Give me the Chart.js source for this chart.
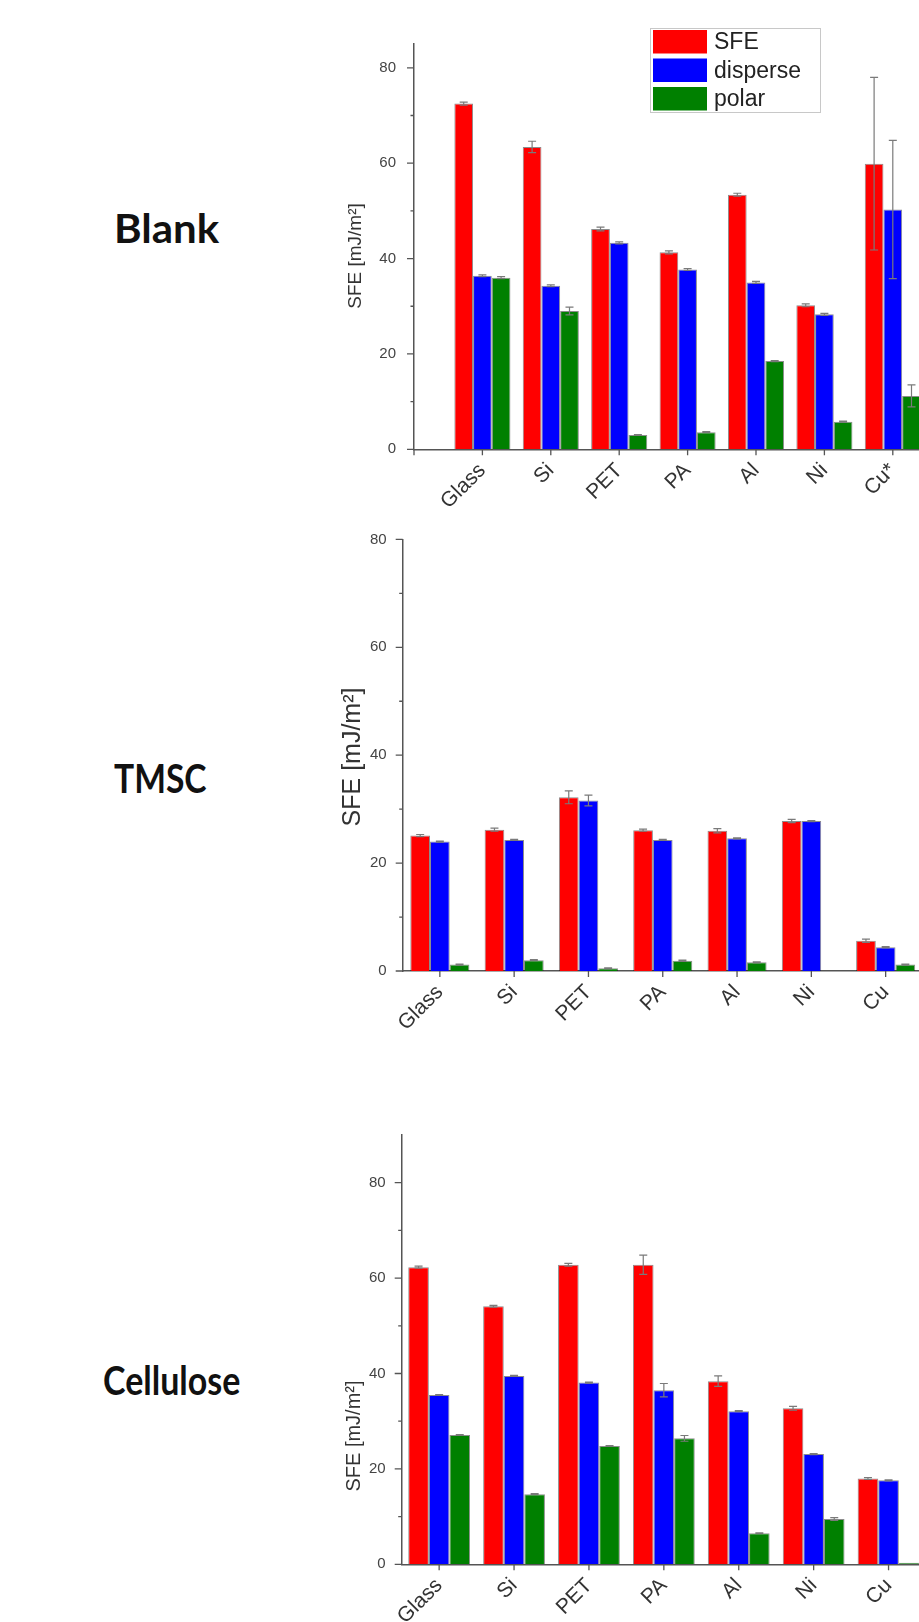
<!DOCTYPE html>
<html>
<head>
<meta charset="utf-8">
<script src="https://cdn.jsdelivr.net/npm/chart.js@4.4.1/dist/chart.umd.min.js"></script>
<style>
  html, body { margin: 0; padding: 0; background: #fff; }
  body { width: 919px; height: 1622px; overflow: hidden; position: relative; }
  .panel { position: absolute; left: 0; }
  .name { position: absolute; font-family: Lato, sans-serif; font-weight: 700; font-size: 40px; line-height: 40px; color: #111; transform-origin: left top; }
  canvas { display: block; }
</style>
</head>
<body>
<div class="name" style="left:114px;top:208px;transform:scaleX(1.05)">Blank</div>
<div class="name" style="left:114px;top:758px;transform:scaleX(0.84)">TMSC</div>
<div class="name" style="left:103px;top:1360px;transform:scaleX(0.85)">Cellulose</div>

<canvas class="panel" id="blank" width="1000" height="560" style="top:0"></canvas>
<canvas class="panel" id="tmsc" width="960" height="620" style="top:480px"></canvas>
<canvas class="panel" id="cellulose" width="960" height="542" style="top:1080px"></canvas>

<script>
const categories = ['Glass', 'Si', 'PET', 'PA', 'Al', 'Ni', 'Cu'];
const blankCategories = ['Glass', 'Si', 'PET', 'PA', 'Al', 'Ni', 'Cu*'];
const seriesNames = ['SFE', 'disperse', 'polar'];
const yTicks = [0, 20, 40, 60, 80];
const yTitle = 'SFE [mJ/m²]';

// Blank
const blankSfe = [72.5, 63.4, 46.2, 41.3, 53.4, 30.2, 59.9];
const blankDisperse = [36.4, 34.3, 43.3, 37.7, 35.0, 28.3, 50.3];
const blankPolar = [36.0, 29.0, 3.0, 3.6, 18.5, 5.8, 11.2];
const blankSfeErr = [0.3, 1.2, 0.4, 0.3, 0.3, 0.3, 18.1];
const blankDisperseErr = [0.2, 0.2, 0.2, 0.2, 0.2, 0.2, 14.5];
const blankPolarErr = [0.2, 0.8, 0.1, 0.1, 0.1, 0.1, 2.3];

// TMSC
const tmscSfe = [25.1, 26.2, 32.2, 26.1, 26.0, 27.8, 5.6];
const tmscDisperse = [24.0, 24.3, 31.6, 24.3, 24.6, 27.8, 4.4];
const tmscPolar = [1.2, 2.0, 0.5, 1.9, 1.6, 0, 1.2];
const tmscSfeErr = [0.2, 0.3, 1.2, 0.2, 0.4, 0.3, 0.3];
const tmscDisperseErr = [0.1, 0.1, 1.0, 0.1, 0.1, 0.1, 0.1];
const tmscPolarErr = [0.1, 0.1, 0.1, 0.1, 0.1, 0, 0.1];

// Cellulose
const celluloseSfe = [62.3, 54.1, 62.8, 62.8, 38.4, 32.7, 18.0];
const celluloseDisperse = [35.5, 39.5, 38.1, 36.5, 32.1, 23.1, 17.6];
const cellulosePolar = [27.1, 14.7, 24.8, 26.4, 6.5, 9.5, 0.3];
const celluloseSfeErr = [0.2, 0.2, 0.3, 2.0, 1.1, 0.4, 0.2];
const celluloseDisperseErr = [0.1, 0.1, 0.1, 1.4, 0.1, 0.1, 0.1];
const cellulosePolarErr = [0.1, 0.1, 0.1, 0.6, 0.1, 0.3, 0];

const colors = ['#ff0000', '#0000ff', '#008000'];

Chart.defaults.font.family = '"Liberation Sans", Arial, sans-serif';

// error bars drawn from each dataset's errors array
const errorBars = {
  id: 'errorBars',
  afterDatasetsDraw(chart) {
    const { ctx } = chart;
    const y = chart.scales.y;
    ctx.save();
    ctx.strokeStyle = '#7a7a7a';
    ctx.lineWidth = 1.2;
    chart.data.datasets.forEach((ds, di) => {
      chart.getDatasetMeta(di).data.forEach((bar, i) => {
        const v = ds.data[i];
        const e = ds.errors[i];
        if (v == null || !e) return;
        const top = y.getPixelForValue(v + e);
        const bot = y.getPixelForValue(Math.max(v - e, 0));
        ctx.beginPath();
        ctx.moveTo(bar.x, top);
        ctx.lineTo(bar.x, bot);
        ctx.moveTo(bar.x - 4, top);
        ctx.lineTo(bar.x + 4, top);
        ctx.moveTo(bar.x - 4, bot);
        ctx.lineTo(bar.x + 4, bot);
        ctx.stroke();
      });
    });
    ctx.restore();
  }
};

// outward major/minor ticks like the Origin plots
const axisMarks = {
  id: 'axisMarks',
  afterDatasetsDraw(chart) {
    const { ctx, chartArea } = chart;
    const { x, y } = chart.scales;
    ctx.save();
    ctx.strokeStyle = '#555';
    ctx.lineWidth = 1.3;
    ctx.beginPath();
    for (let v = 0; v <= y.max; v += 10) {
      const major = yTicks.includes(v);
      if (!major && v === y.max) continue;
      const py = y.getPixelForValue(v);
      ctx.moveTo(chartArea.left - (major ? 7 : 3.5), py);
      ctx.lineTo(chartArea.left, py);
    }
    x.ticks.forEach((t, i) => {
      const px = x.getPixelForTick(i);
      ctx.moveTo(px, chartArea.bottom);
      ctx.lineTo(px, chartArea.bottom + 6);
    });
    ctx.stroke();
    ctx.restore();
  }
};

// rotated y-axis title, placed where the original figure had it
const sideTitle = {
  id: 'sideTitle',
  afterDraw(chart, args, opts) {
    const { ctx } = chart;
    ctx.save();
    ctx.translate(opts.x, opts.y);
    ctx.rotate(-Math.PI / 2);
    ctx.font = opts.size + 'px "Liberation Sans", Arial, sans-serif';
    ctx.fillStyle = '#333';
    ctx.textAlign = 'center';
    ctx.textBaseline = 'middle';
    ctx.fillText(yTitle, 0, 0);
    ctx.restore();
  }
};

const boxLegend = {
  id: 'boxLegend',
  afterDraw(chart, args, opts) {
    if (!opts.show) return;
    const { ctx } = chart;
    ctx.save();
    ctx.fillStyle = '#fff';
    ctx.fillRect(opts.x, opts.y, opts.w, opts.h);
    ctx.strokeStyle = '#c8c8c8';
    ctx.lineWidth = 1;
    ctx.strokeRect(opts.x + 0.5, opts.y + 0.5, opts.w, opts.h);
    ctx.font = opts.font;
    ctx.textBaseline = 'middle';
    chart.data.datasets.forEach((ds, i) => {
      const top = opts.y + 2 + i * opts.row;
      ctx.fillStyle = ds.backgroundColor;
      ctx.fillRect(opts.x + 3, top, opts.box, opts.row - 5);
      ctx.fillStyle = '#222';
      ctx.fillText(ds.label, opts.x + opts.box + 10, top + (opts.row - 5) / 2 + 1);
    });
    ctx.restore();
  }
};

function makeSets(values, errors, catPct, wrap) {
  return values.map((vals, i) => ({
    label: seriesNames[i],
    data: wrap(vals),
    errors: wrap(errors[i]),
    backgroundColor: colors[i],
    borderColor: 'rgba(0,0,0,0.45)',
    borderWidth: 1,
    categoryPercentage: catPct,
    barPercentage: 1
  }));
}

function makeChart(id, labels, sets, yMax, box, title, legend) {
  return new Chart(document.getElementById(id), {
    type: 'bar',
    data: { labels, datasets: sets },
    options: {
      responsive: false,
      animation: false,
      events: [],
      layout: { padding: box.padding },
      plugins: {
        legend: { display: false },
        tooltip: { enabled: false },
        sideTitle: title,
        boxLegend: legend || { show: false }
      },
      scales: {
        x: {
          offset: box.offset,
          grid: { display: false, drawTicks: false },
          border: { color: '#555', width: 1.5 },
          ticks: {
            autoSkip: false, minRotation: 45, maxRotation: 45,
            padding: 9, color: '#333', font: { size: 21 }
          },
          afterFit(s) { s.height = box.xHeight; }
        },
        y: {
          min: 0,
          max: yMax,
          grid: { display: false, drawTicks: false },
          border: { color: '#555', width: 1.5 },
          ticks: { stepSize: 20, includeBounds: false, padding: box.tickPad, color: '#444', font: { size: 15 } },
          afterFit(s) { s.width = box.yWidth; }
        }
      }
    },
    plugins: [axisMarks, errorBars, sideTitle, boxLegend]
  });
}

const padEnds = a => [null, ...a, null];
const same = a => a;

makeChart('blank', padEnds(blankCategories).map(v => v || ''),
  makeSets([blankSfe, blankDisperse, blankPolar], [blankSfeErr, blankDisperseErr, blankPolarErr], 0.82, padEnds),
  85,
  { offset: false, padding: { left: 343, top: 44, right: 38.8, bottom: 0 }, yWidth: 71, xHeight: 110.7, tickPad: 18 },
  { x: 356, y: 256, size: 19 },
  { show: true, x: 650, y: 28, w: 170, h: 84, box: 54, row: 28.5, font: '23px "Liberation Sans", Arial, sans-serif' });

makeChart('tmsc', categories,
  makeSets([tmscSfe, tmscDisperse, tmscPolar], [tmscSfeErr, tmscDisperseErr, tmscPolarErr], 0.795, same),
  80,
  { offset: true, padding: { left: 340.4, top: 59.4, right: 37.2, bottom: 0 }, yWidth: 62.3, xHeight: 129, tickPad: 16 },
  { x: 353, y: 277, size: 25 });

makeChart('cellulose', categories,
  makeSets([celluloseSfe, celluloseDisperse, cellulosePolar], [celluloseSfeErr, celluloseDisperseErr, cellulosePolarErr], 0.825, same),
  90,
  { offset: true, padding: { left: 341.4, top: 55, right: 34, bottom: 0 }, yWidth: 60.3, xHeight: 57.7, tickPad: 16 },
  { x: 354, y: 356, size: 20 });
</script>
</body>
</html>
